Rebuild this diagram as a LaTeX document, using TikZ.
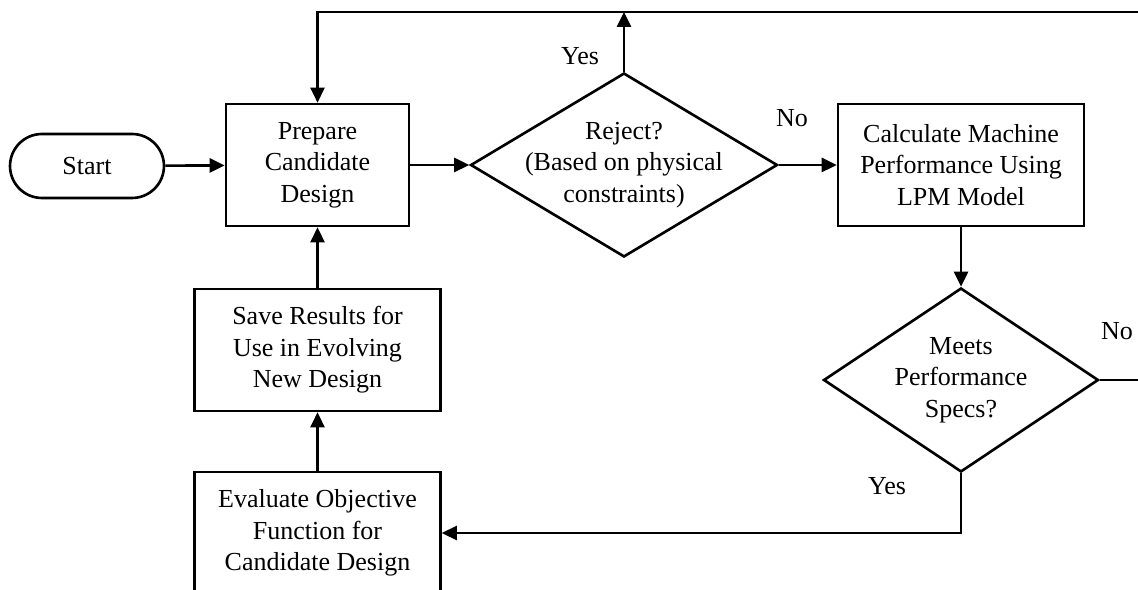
\documentclass[tikz,border=0pt]{standalone}
\usepackage{fontspec}
\setmainfont{Liberation Serif}
\usetikzlibrary{shapes.geometric,arrows.meta}

\begin{document}
\begin{tikzpicture}[x=0.02cm,y=-0.02cm,
		font=\fontsize{14.8pt}{18pt}\selectfont,
		every path/.style={line width=1.5pt},
		freccia/.style={-{Triangle[length=0.3cm,width=0.28cm]}},
		blocco/.style={draw,rectangle,align=center,inner sep=0pt,minimum height=2.44cm},
		scelta/.style={draw,diamond,align=center,inner xsep=-1cm,inner ysep=-0.5cm,minimum height=3.68cm},
		inizio/.style={draw,rectangle,rounded corners=0.64cm,minimum width=3.08cm,minimum height=1.28cm}]
			\useasboundingbox (0,0) rectangle (1138,590);
			% Nodi
			\node[inizio] (start) at (87,166) {Start};
			\node[blocco,minimum width=3.66cm] (prep) at (317.5,165) {Prepare\\Candidate\\Design};
			\node[scelta,minimum width=6.14cm] (reject) at (624,165) {Reject?\\(Based on physical\\constraints)};
			\node[blocco,minimum width=4.92cm] (calc) at (961,165) {Calculate Machine\\Performance Using\\LPM Model};
			\node[scelta,minimum width=5.5cm] (meets) at (961,380) {Meets\\Performance\\Specs?};
			\node[blocco,minimum width=4.92cm] (save) at (317.5,350) {Save Results for\\Use in Evolving\\New Design};
			\node[blocco,minimum width=4.92cm] (evalf) at (317.5,533) {Evaluate Objective\\Function for\\Candidate Design};
			
			\coordinate (top) at (624,12);
			
			% Etichette
			\node (yes1) at (580,56) {Yes};
			\node (no1) at (792,118) {No};
			\node (no2) at (1117,331) {No};
			\node (yes2) at (887,486) {Yes};
			
			% Collegamenti
			\draw[freccia] (start) -- (prep);
			\draw[freccia] (prep) -- (reject);
			\draw[freccia] (reject) -- (calc);
			\draw[freccia] (reject.north) -- (top);
			\draw[freccia] (calc) -- (meets);
			\draw[freccia] (meets.east) -- (1170,380) -- (1170,12) -| (prep.north);
			\draw[freccia] (meets.south) |- (evalf.east);
			\draw[freccia] (evalf) -- (save);
			\draw[freccia] (save) -- (prep);

		\end{tikzpicture}
\end{document}
